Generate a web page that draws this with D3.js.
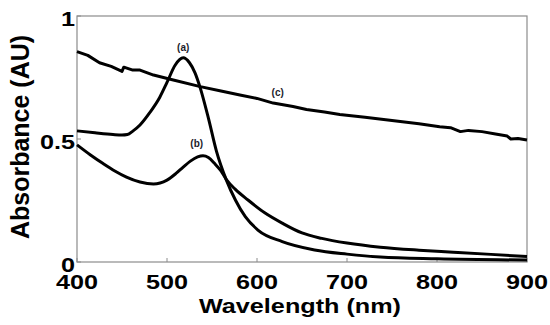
<!DOCTYPE html>
<html>
<head>
<meta charset="utf-8">
<script src="https://cdn.jsdelivr.net/npm/d3@7"></script>
<style>
  body { margin: 0; background: #fff; }
  text { font-family: Arial, "Liberation Sans", sans-serif; font-weight: bold; }
</style>
</head>
<body>
<div id="chart"></div>
<script>
// spectra
var wlA = [400, 420, 440, 450, 456, 462, 470, 481, 492, 500, 509, 518, 525, 531, 537, 546, 555, 566, 576, 587, 601, 628, 664, 700, 737, 800, 900];
var absA = [0.533, 0.525, 0.518, 0.516, 0.518, 0.532, 0.557, 0.608, 0.67, 0.73, 0.80, 0.83, 0.81, 0.77, 0.707, 0.585, 0.45, 0.333, 0.252, 0.184, 0.13, 0.083, 0.049, 0.032, 0.02, 0.013, 0.008];

var wlB = [400, 415, 429, 442, 455, 470, 485, 500, 510, 518, 526, 534, 540, 546, 553, 560, 566, 576, 590, 609, 628, 650, 672, 700, 737, 780, 818, 860, 900];
var absB = [0.476, 0.435, 0.40, 0.37, 0.345, 0.325, 0.317, 0.333, 0.36, 0.386, 0.41, 0.427, 0.432, 0.425, 0.40, 0.37, 0.335, 0.295, 0.252, 0.199, 0.158, 0.118, 0.096, 0.077, 0.060, 0.048, 0.040, 0.031, 0.022];

var wlC = [400, 412, 425, 438, 450, 452, 462, 470, 485, 507, 537, 560, 581, 600, 618, 640, 655, 675, 692, 720, 750, 780, 803, 815, 826, 835, 850, 865, 878, 882, 890, 900];
var absC = [0.855, 0.84, 0.81, 0.795, 0.775, 0.792, 0.78, 0.78, 0.76, 0.74, 0.713, 0.695, 0.679, 0.665, 0.646, 0.632, 0.62, 0.61, 0.60, 0.588, 0.575, 0.562, 0.55, 0.546, 0.53, 0.535, 0.53, 0.52, 0.512, 0.5, 0.502, 0.496];

var xTicks = [400, 500, 600, 700, 800, 900];
var yTicks = [0, 0.5, 1];
var yTickLabels = ['0', '0.5', '1'];

var curveLabels = ['(a)', '(b)', '(c)'];
var labelPos = [[518, 0.858], [533, 0.467], [623, 0.675]]; // [wavelength, absorbance]

var width = 550, height = 325;
var plotLeft = 77, plotRight = 527, plotTop = 16, plotBottom = 262;

var svg = d3.select('#chart').append('svg')
  .attr('width', width)
  .attr('height', height);

var x = d3.scaleLinear().domain([400, 900]).range([plotLeft, plotRight]);
var y = d3.scaleLinear().domain([0, 1]).range([plotBottom, plotTop]);

//frame
svg.append('rect')
  .attr('x', plotLeft).attr('y', plotTop)
  .attr('width', plotRight - plotLeft).attr('height', plotBottom - plotTop)
  .attr('fill', 'none').attr('stroke', '#8c8c8c').attr('stroke-width', 1.2);

//inward ticks
svg.selectAll('line.xt').data(xTicks).enter().append('line')
  .attr('x1', function (d) { return x(d); }).attr('x2', function (d) { return x(d); })
  .attr('y1', plotBottom).attr('y2', plotBottom - 4)
  .attr('stroke', '#8c8c8c');

svg.selectAll('line.yt').data(yTicks).enter().append('line')
  .attr('x1', plotLeft).attr('x2', plotLeft + 4)
  .attr('y1', function (d) { return y(d); }).attr('y2', function (d) { return y(d); })
  .attr('stroke', '#8c8c8c');

//tick labels (picture is a bit wide, so stretch text horizontally)
svg.selectAll('text.xl').data(xTicks).enter().append('text')
  .attr('transform', function (d) { return 'translate(' + x(d) + ',289) scale(1.2,1)'; })
  .attr('text-anchor', 'middle')
  .attr('font-size', 21)
  .text(function (d) { return d; });

svg.selectAll('text.yl').data(yTicks).enter().append('text')
  .attr('transform', function (d) { return 'translate(75,' + (y(d) + 10) + ') scale(1.2,1)'; })
  .attr('text-anchor', 'end')
  .attr('font-size', 21)
  .text(function (d, i) { return yTickLabels[i]; });

//axis titles
svg.append('text')
  .attr('transform', 'translate(300,313) scale(1.2,1)')
  .attr('text-anchor', 'middle')
  .attr('font-size', 21)
  .text('Wavelength (nm)');

svg.append('text')
  .attr('transform', 'translate(29,137) rotate(-90)')
  .attr('text-anchor', 'middle')
  .attr('font-size', 25)
  .text('Absorbance (AU)');

//curves
var smooth = d3.line()
  .x(function (d) { return x(d[0]); })
  .y(function (d) { return y(d[1]); })
  .curve(d3.curveMonotoneX);

var rough = d3.line()
  .x(function (d) { return x(d[0]); })
  .y(function (d) { return y(d[1]); });

var series = [
  { pts: d3.zip(wlA, absA), line: smooth },
  { pts: d3.zip(wlB, absB), line: smooth },
  { pts: d3.zip(wlC, absC), line: rough }
];

svg.selectAll('path.spec').data(series).enter().append('path')
  .attr('class', 'spec')
  .attr('d', function (d) { return d.line(d.pts); })
  .attr('fill', 'none')
  .attr('stroke', '#000')
  .attr('stroke-width', 3)
  .attr('stroke-linejoin', 'round');

svg.selectAll('text.cl').data(curveLabels).enter().append('text')
  .attr('x', function (d, i) { return x(labelPos[i][0]); })
  .attr('y', function (d, i) { return y(labelPos[i][1]); })
  .attr('text-anchor', 'middle')
  .attr('font-size', 10)
  .attr('fill', '#1c1c2c')
  .text(function (d) { return d; });
</script>
</body>
</html>
